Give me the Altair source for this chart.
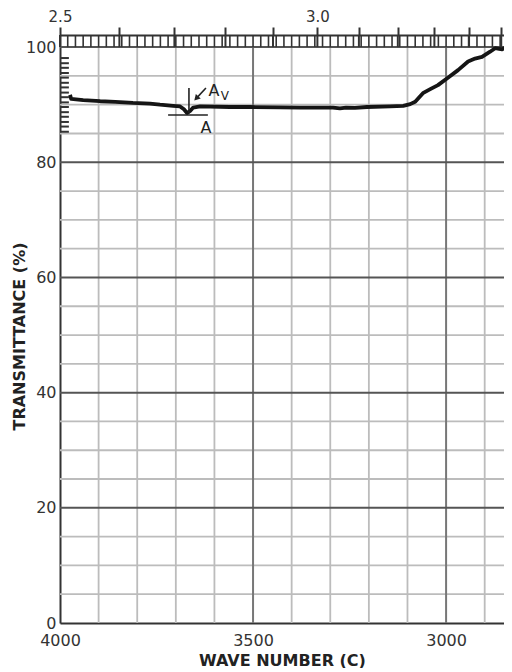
import altair as alt
import pandas as pd

# ---------------- data ----------------
wavenumber = [3974, 3971, 3940, 3896, 3857, 3811, 3767, 3741, 3707, 3689,
              3679, 3671, 3663, 3655, 3637, 3560, 3508, 3430, 3378, 3293,
              3275, 3259, 3236, 3205, 3145, 3111, 3093, 3080, 3060, 3041,
              3021, 2997, 2969, 2943, 2925, 2907, 2886, 2873, 2855, 2839, 2830]
transmittance = [91.7, 91.0, 90.8, 90.6, 90.5, 90.3, 90.2, 90.0, 89.8, 89.7,
                 89.2, 88.55, 88.9, 89.5, 89.7, 89.6, 89.6, 89.55, 89.5, 89.5,
                 89.35, 89.5, 89.45, 89.6, 89.7, 89.8, 90.1, 90.5, 92.0, 92.7,
                 93.4, 94.6, 96.0, 97.5, 98.0, 98.3, 99.2, 99.8, 99.6, 100.2, 100.3]

x_tick_labels = [4000, 3500, 3000]
y_tick_labels = [0, 20, 40, 60, 80, 100]
wavelength_major = [2.5, 2.6, 2.7, 2.8, 2.9, 3.0, 3.1, 3.2, 3.3, 3.4, 3.5]
vgrid_minor = [3900, 3800, 3700, 3600, 3400, 3300, 3200, 3100, 2900]
vgrid_major = [3500, 3000]
hgrid_minor = [5, 10, 15, 25, 30, 35, 45, 50, 55, 65, 70, 75, 85, 90, 95]
hgrid_major = [20, 40, 60, 80, 100]
top_minor_ticks = list(range(3980, 2849, -20))
left_ticks = [98.1, 97.2, 96.4, 95.5, 94.7, 93.8, 93.0, 92.1, 91.3, 90.4,
              89.6, 88.7, 87.9, 87.0, 86.2, 85.3]

# annotation (data coordinates)
arrow_w, arrow_t1, arrow_t2 = 3666, 92.9, 88.5
base_w1, base_w2, base_t = 3720, 3617, 88.2
av_arrow_w = [3622, 3647]
av_arrow_t = [92.9, 91.1]
ann_w = [3601, 3573, 3622]
ann_t = [92.3, 91.5, 85.9]
ann_text = ["A", "V", "A"]
ann_size = [16, 12, 16]

# ---------------- chart ----------------
FONT = "DejaVu Sans"
X_END = 2850
xs = alt.Scale(domain=[4000, X_END], nice=False, zero=False)
ys = alt.Scale(domain=[0, 102.1], nice=False, zero=False)

spec_df = pd.DataFrame({"w": wavenumber, "t": transmittance})


def vrules(vals, color, width):
    df = pd.DataFrame({"w": vals, "y0": 0, "y1": 100})
    return alt.Chart(df).mark_rule(color=color, strokeWidth=width).encode(
        x=alt.X("w:Q", scale=xs, axis=None),
        y=alt.Y("y0:Q", scale=ys, axis=None),
        y2="y1:Q",
    )


def hrules(vals, color, width):
    df = pd.DataFrame({"t": vals, "x0": 4000, "x1": X_END})
    return alt.Chart(df).mark_rule(color=color, strokeWidth=width).encode(
        y=alt.Y("t:Q", scale=ys, axis=None),
        x=alt.X("x0:Q", scale=xs, axis=None),
        x2="x1:Q",
    )


grid_v_minor = vrules(vgrid_minor, "#bcbcbc", 1.8)
grid_h_minor = hrules(hgrid_minor, "#bcbcbc", 1.8)
grid_v_major = vrules(vgrid_major, "#777777", 2)
grid_h_major = hrules(hgrid_major, "#555555", 2)

# top minor ticks band
tmin_df = pd.DataFrame({"w": top_minor_ticks, "y0": 100, "y1": 102.1})
top_minor = alt.Chart(tmin_df).mark_rule(color="#333333", strokeWidth=1.6).encode(
    x=alt.X("w:Q", scale=xs, axis=None),
    y=alt.Y("y0:Q", scale=ys, axis=None),
    y2="y1:Q",
)

# top major ticks + wavelength axis
major_pos = [10000.0 / l for l in wavelength_major if 10000.0 / l >= X_END]
tmaj_df = pd.DataFrame({"w": major_pos, "y0": 100, "y1": 102.1})
top_axis = alt.Axis(
    orient="top",
    values=major_pos,
    labelExpr="(round(100000/datum.value)==25 || round(100000/datum.value)==30) ? format(10000/datum.value, '.1f') : ''",
    title=None,
    grid=False,
    tickSize=8,
    tickWidth=2,
    tickColor="#333333",
    domainColor="#333333",
    domainWidth=2,
    labelFont=FONT,
    labelFontSize=15,
    labelColor="#333333",
    labelPadding=3,
    labelFlush=False,
)
top_major = alt.Chart(tmaj_df).mark_rule(color="#333333", strokeWidth=2).encode(
    x=alt.X("w:Q", scale=xs, axis=top_axis),
    y=alt.Y("y0:Q", scale=ys, axis=None),
    y2="y1:Q",
)

# left small ticks
lt_df = pd.DataFrame({"t": left_ticks, "x0": 4000, "x1": 3977})
left_small = alt.Chart(lt_df).mark_rule(color="#333333", strokeWidth=2).encode(
    y=alt.Y("t:Q", scale=ys, axis=None),
    x=alt.X("x0:Q", scale=xs, axis=None),
    x2="x1:Q",
)

bottom_axis = alt.Axis(
    orient="bottom",
    values=x_tick_labels,
    format="d",
    title="WAVE NUMBER (C)",
    grid=False,
    ticks=False,
    domainColor="#333333",
    domainWidth=2,
    labelFont=FONT,
    labelFontSize=16,
    labelColor="#333333",
    labelPadding=9,
    labelFlush=False,
    titleFont=FONT,
    titleFontSize=16,
    titleFontWeight="bold",
    titleColor="#222222",
    titleBaseline="alphabetic",
    titleY=42,
)
left_axis = alt.Axis(
    orient="left",
    values=y_tick_labels,
    title="TRANSMITTANCE (%)",
    grid=False,
    ticks=False,
    domainColor="#333333",
    domainWidth=2,
    labelFont=FONT,
    labelFontSize=16,
    labelColor="#333333",
    labelPadding=4,
    labelFlush=False,
    titleFont=FONT,
    titleFontSize=16,
    titleFontWeight="bold",
    titleColor="#222222",
    titleX=-33,
    titleY=301,
)

spectrum = alt.Chart(spec_df).mark_line(
    color="#151515", strokeWidth=3.8, strokeJoin="round", clip=True
).encode(
    x=alt.X("w:Q", scale=xs, axis=bottom_axis),
    y=alt.Y("t:Q", scale=ys, axis=left_axis),
)

# annotations
arr_df = pd.DataFrame({"w": [arrow_w], "t1": [arrow_t1], "t2": [arrow_t2]})
arrow_v = alt.Chart(arr_df).mark_rule(color="#222222", strokeWidth=1.6).encode(
    x=alt.X("w:Q", scale=xs, axis=None),
    y=alt.Y("t1:Q", scale=ys, axis=None),
    y2="t2:Q",
)
base_df = pd.DataFrame({"w1": [base_w1], "w2": [base_w2], "t": [base_t]})
base_line = alt.Chart(base_df).mark_rule(color="#222222", strokeWidth=1.6).encode(
    x=alt.X("w1:Q", scale=xs, axis=None),
    x2="w2:Q",
    y=alt.Y("t:Q", scale=ys, axis=None),
)
av_df = pd.DataFrame({"w": av_arrow_w, "t": av_arrow_t})
av_line = alt.Chart(av_df).mark_line(color="#222222", strokeWidth=1.6).encode(
    x=alt.X("w:Q", scale=xs, axis=None),
    y=alt.Y("t:Q", scale=ys, axis=None),
)
head_df = pd.DataFrame({"w": [av_arrow_w[-1]], "t": [av_arrow_t[-1]]})
av_head = alt.Chart(head_df).mark_point(
    shape="triangle-up", filled=True, color="#222222", size=45, angle=223, opacity=1
).encode(
    x=alt.X("w:Q", scale=xs, axis=None),
    y=alt.Y("t:Q", scale=ys, axis=None),
)
ann_df = pd.DataFrame({"w": ann_w, "t": ann_t, "label": ann_text, "fs": ann_size})
ann_text_layer = alt.Chart(ann_df).mark_text(font=FONT, color="#222222", baseline="middle", align="center").encode(
    x=alt.X("w:Q", scale=xs, axis=None),
    y=alt.Y("t:Q", scale=ys, axis=None),
    text="label:N",
    size=alt.Size("fs:Q", scale=None),
)

chart = alt.layer(
    grid_v_minor, grid_h_minor, grid_v_major, grid_h_major,
    top_minor, top_major, left_small,
    spectrum, arrow_v, base_line, av_line, av_head, ann_text_layer,
).resolve_axis(x="independent", y="independent").properties(
    width=444,
    height=588,
    autosize=alt.AutoSizeParams(type="none"),
    padding={"left": 52, "top": 27, "right": 0, "bottom": 45},
).configure_view(stroke=None).configure(background="white")

chart.save("out.html", embed_options={"renderer": "svg", "actions": False})
